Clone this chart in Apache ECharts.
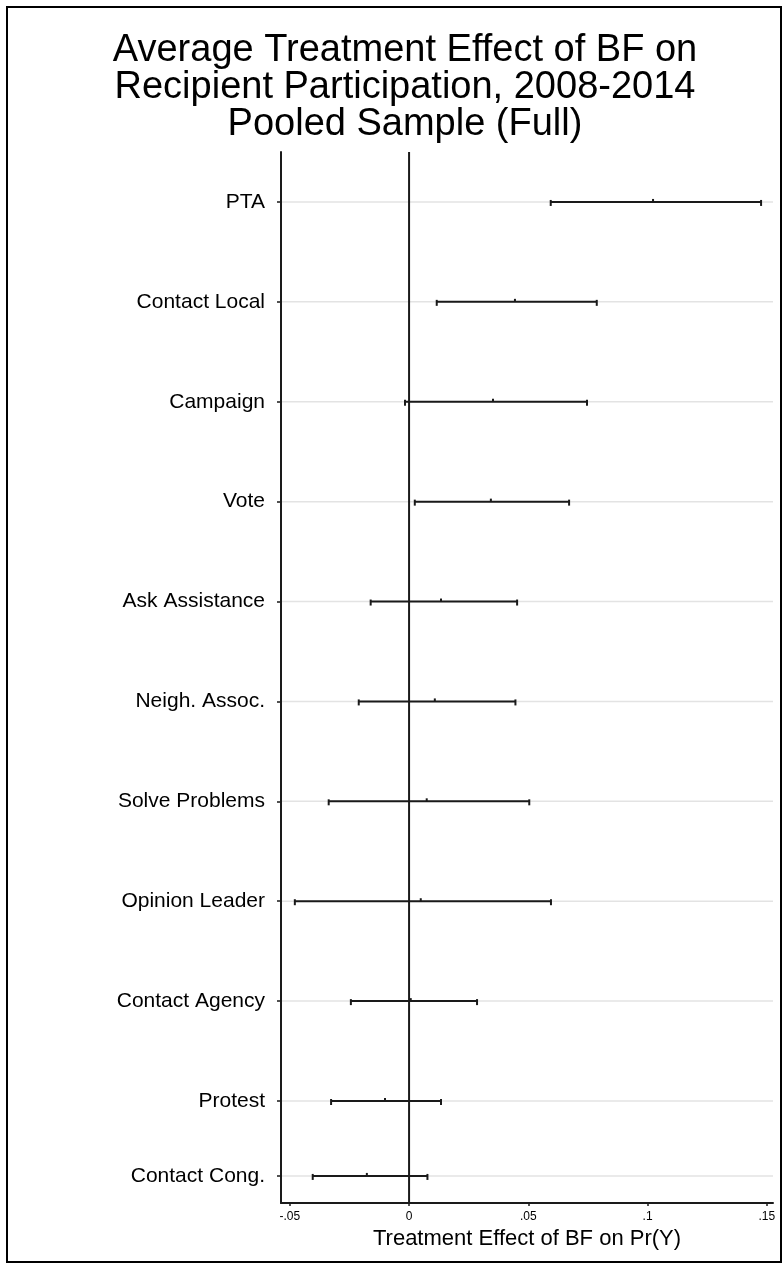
<!DOCTYPE html>
<html>
<head>
<meta charset="utf-8">
<script src="https://cdn.jsdelivr.net/npm/echarts@6/dist/echarts.min.js"></script>
<style>
  html, body { margin: 0; padding: 0; background: #fff; }
  #chart { width: 783px; height: 1264px; }
</style>
</head>
<body>
<div id="chart"></div>
<script>
// Participation outcomes, listed top to bottom
const outcomes = ['PTA', 'Contact Local', 'Campaign', 'Vote', 'Ask Assistance', 'Neigh. Assoc.',
  'Solve Problems', 'Opinion Leader', 'Contact Agency', 'Protest', 'Contact Cong.'];
// Where each outcome sits on the vertical axis
const rowPos = [11, 10, 9, 8, 7, 6, 5, 4, 3, 2, 1.25];
// Point estimates and confidence bounds of the treatment effect
const estimate = [0.1023, 0.0444, 0.0352, 0.0343, 0.0134, 0.0108, 0.0074, 0.0049, 0.0007, -0.0101, -0.0177];
const lower    = [0.0594, 0.0116, -0.0017, 0.0024, -0.0161, -0.0211, -0.0337, -0.0479, -0.0244, -0.0327, -0.0404];
const upper    = [0.1476, 0.0787, 0.0746, 0.0671, 0.0453, 0.0446, 0.0504, 0.0595, 0.0285, 0.0134, 0.0077];
// Horizontal axis ticks and their labels
const xTicks = [-0.05, 0, 0.05, 0.1, 0.15];
const xTickLabels = ['-.05', '0', '.05', '.1', '.15'];

const FONT = '"Liberation Sans", Arial, sans-serif';
const INK = '#1a1a1a';

const barData = outcomes.map((_, i) => [lower[i], upper[i], estimate[i], rowPos[i]]);
const gridData = rowPos.map(p => [0, p]);

const chart = echarts.init(document.getElementById('chart'), null, { renderer: 'canvas' });

chart.setOption({
  animation: false,
  backgroundColor: '#fff',
  title: {
    text: 'Average Treatment Effect of BF on\nRecipient Participation, 2008-2014\nPooled Sample (Full)',
    left: 400,
    textAlign: 'center',
    top: 27,
    textStyle: { fontFamily: FONT, fontSize: 38, fontWeight: 'normal', color: '#000', lineHeight: 37 }
  },
  graphic: [{
    type: 'rect',
    shape: { x: 7, y: 7, width: 774, height: 1255 },
    style: { fill: 'none', stroke: '#000', lineWidth: 2 },
    silent: true
  }],
  grid: { left: 281, right: 10, top: 152, bottom: 61, containLabel: false },
  xAxis: {
    type: 'value',
    min: -0.0537,
    max: 0.1526,
    name: 'Treatment Effect of BF on Pr(Y)',
    nameLocation: 'middle',
    nameGap: 17,
    nameTextStyle: { fontFamily: FONT, fontSize: 22, color: '#000', verticalAlign: 'top' },
    axisLine: { show: true, onZero: false, lineStyle: { color: INK, width: 2 } },
    axisTick: { show: true, customValues: xTicks, length: 3, lineStyle: { color: INK, width: 1.5 } },
    axisLabel: {
      customValues: xTicks,
      margin: 8,
      fontFamily: FONT,
      fontSize: 12,
      color: '#000',
      formatter: v => xTickLabels[xTicks.indexOf(v)]
    },
    splitLine: { show: false }
  },
  yAxis: {
    type: 'value',
    min: 0.979,
    max: 11.5,
    axisLine: { show: true, onZero: false, lineStyle: { color: INK, width: 2 } },
    axisTick: { show: true, customValues: rowPos, length: 4, lineStyle: { color: INK, width: 1.5 } },
    axisLabel: {
      customValues: rowPos,
      margin: 16,
      fontFamily: FONT,
      fontSize: 21,
      color: '#000',
      formatter: v => outcomes[rowPos.indexOf(v)]
    },
    splitLine: { show: false }
  },
  series: [
    {
      // light horizontal guide for each outcome row
      type: 'custom',
      z: 1,
      silent: true,
      data: gridData,
      encode: { x: 0, y: 1 },
      renderItem(params, api) {
        const cs = params.coordSys;
        const y = api.coord([0, api.value(1)])[1];
        return {
          type: 'line',
          shape: { x1: cs.x + 1, y1: y, x2: cs.x + cs.width, y2: y },
          style: { stroke: '#e3e3e3', lineWidth: 1.5 }
        };
      }
    },
    {
      // reference line at zero effect
      type: 'custom',
      z: 2,
      silent: true,
      data: [[0, 1]],
      encode: { x: 0, y: 1 },
      renderItem(params, api) {
        const cs = params.coordSys;
        const x = api.coord([api.value(0), api.value(1)])[0];
        return {
          type: 'line',
          shape: { x1: x, y1: cs.y, x2: x, y2: cs.y + cs.height },
          style: { stroke: INK, lineWidth: 2 }
        };
      }
    },
    {
      // capped confidence intervals with point estimate marks
      type: 'custom',
      z: 3,
      data: barData,
      encode: { x: [0, 1, 2], y: 3 },
      renderItem(params, api) {
        const y = api.value(3);
        const lo = api.coord([api.value(0), y]);
        const hi = api.coord([api.value(1), y]);
        const est = api.coord([api.value(2), y]);
        const st = { stroke: INK, lineWidth: 2 };
        return {
          type: 'group',
          children: [
            { type: 'line', shape: { x1: lo[0], y1: lo[1], x2: hi[0], y2: hi[1] }, style: st },
            { type: 'line', shape: { x1: lo[0], y1: lo[1] - 2, x2: lo[0], y2: lo[1] + 4 }, style: st },
            { type: 'line', shape: { x1: hi[0], y1: hi[1] - 2, x2: hi[0], y2: hi[1] + 4 }, style: st },
            { type: 'line', shape: { x1: est[0], y1: est[1] - 3, x2: est[0], y2: est[1] }, style: st }
          ]
        };
      }
    }
  ]
});
</script>
</body>
</html>
